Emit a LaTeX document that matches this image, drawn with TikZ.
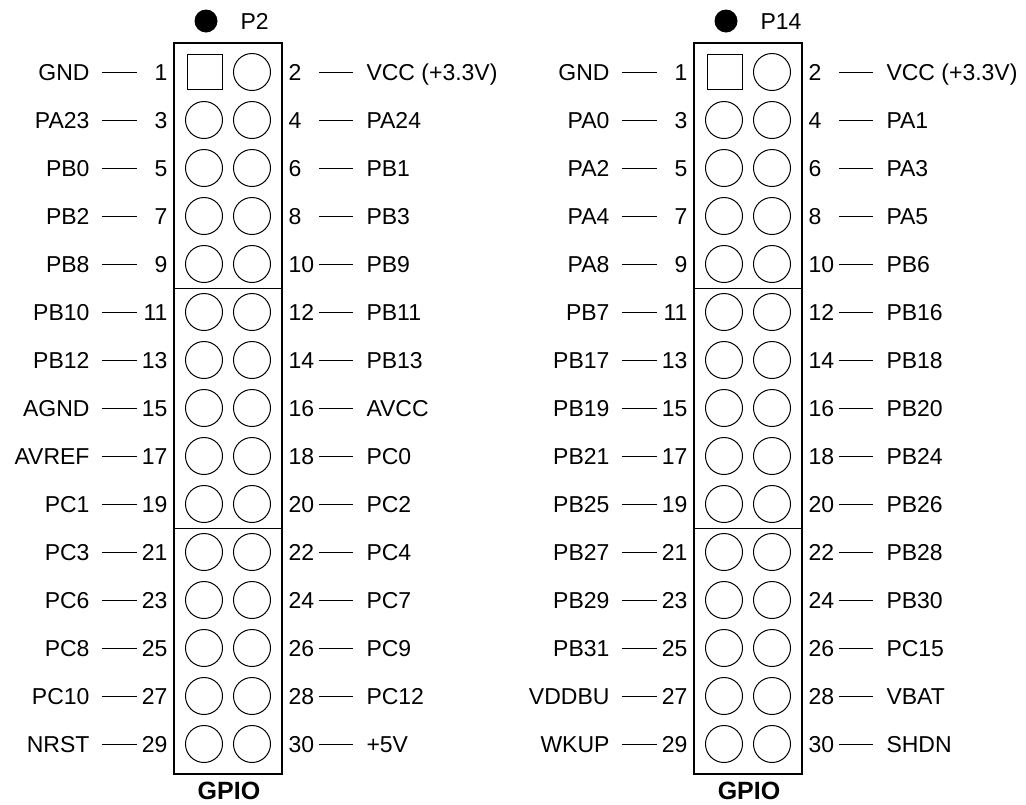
\documentclass[tikz,border=0pt]{standalone}
\usepackage{fontspec}
\setmainfont{Liberation Sans}

\begin{document}
\begin{tikzpicture}[x=1pt, y=-1pt, line width=1pt,
  font=\fontsize{23}{27}\selectfont,
  lab/.style={inner sep=0pt, text height=16.5pt, text depth=0pt},
  num/.style={lab, text width=30pt},
  hole/.style={circle, draw, minimum size=37pt, inner sep=0pt},
  sqhole/.style={draw, minimum size=35pt, inner sep=0pt},
  header/.style={draw, line width=1.3pt, minimum width=108pt, minimum height=731pt, inner sep=0pt}]
\useasboundingbox (0,0) rectangle (1026,804);

% P2
\node[header] (boxa) at (228,408.5) {};
\draw (174,288) -- (282,288);
\draw (174,528) -- (282,528);
\node[circle, fill, inner sep=0pt, minimum size=23pt] (dota) at (206,21) {};
\node[lab, anchor=west] (namea) at (240,21) {P2};
\node[anchor=base, inner sep=0pt, font=\fontsize{25}{29}\selectfont\bfseries] (gpioa) at (229,799) {GPIO};

\foreach \i/\la/\ra in {1/GND/{VCC (+3.3V)}, 2/PA23/PA24, 3/PB0/PB1, 4/PB2/PB3, 5/PB8/PB9,
  6/PB10/PB11, 7/PB12/PB13, 8/AGND/AVCC, 9/AVREF/PC0, 10/PC1/PC2,
  11/PC3/PC4, 12/PC6/PC7, 13/PC8/PC9, 14/PC10/PC12, 15/NRST/+5V} {
  \pgfmathsetmacro\y{72+(\i-1)*48}
  \pgfmathtruncatemacro\m{2*\i-1}
  \pgfmathtruncatemacro\n{2*\i}
  \node[lab, anchor=east] (a\m) at (90,\y) {\la};
  \node[num, align=right, anchor=east] (an\m) at (168,\y) {\m};
  \node[num, align=left, anchor=west] (an\n) at (288,\y) {\n};
  \node[lab, anchor=west] (a\n) at (366,\y) {\ra};
  \ifnum\i=1
    \node[sqhole] (ap\m) at (204.5,\y) {};
  \else
    \node[hole] (ap\m) at (204,\y) {};
  \fi
  \node[hole] (ap\n) at (252,\y) {};
  \draw[shorten <=12pt] (a\m) -- (an\m);
  \draw[shorten >=13pt] (an\n) -- (a\n);
}

% P14
\node[header] (boxb) at (748,408.5) {};
\draw (694,288) -- (802,288);
\draw (694,528) -- (802,528);
\node[circle, fill, inner sep=0pt, minimum size=23pt] (dotb) at (726,21) {};
\node[lab, anchor=west] (nameb) at (760,21) {P14};
\node[anchor=base, inner sep=0pt, font=\fontsize{25}{29}\selectfont\bfseries] (gpiob) at (749,799) {GPIO};

\foreach \i/\la/\ra in {1/GND/{VCC (+3.3V)}, 2/PA0/PA1, 3/PA2/PA3, 4/PA4/PA5, 5/PA8/PB6,
  6/PB7/PB16, 7/PB17/PB18, 8/PB19/PB20, 9/PB21/PB24, 10/PB25/PB26,
  11/PB27/PB28, 12/PB29/PB30, 13/PB31/PC15, 14/VDDBU/VBAT, 15/WKUP/SHDN} {
  \pgfmathsetmacro\y{72+(\i-1)*48}
  \pgfmathtruncatemacro\m{2*\i-1}
  \pgfmathtruncatemacro\n{2*\i}
  \node[lab, anchor=east] (b\m) at (610,\y) {\la};
  \node[num, align=right, anchor=east] (bn\m) at (688,\y) {\m};
  \node[num, align=left, anchor=west] (bn\n) at (808,\y) {\n};
  \node[lab, anchor=west] (b\n) at (886,\y) {\ra};
  \ifnum\i=1
    \node[sqhole] (bp\m) at (724.5,\y) {};
  \else
    \node[hole] (bp\m) at (724,\y) {};
  \fi
  \node[hole] (bp\n) at (772,\y) {};
  \draw[shorten <=12pt] (b\m) -- (bn\m);
  \draw[shorten >=13pt] (bn\n) -- (b\n);
}
\end{tikzpicture}
\end{document}
